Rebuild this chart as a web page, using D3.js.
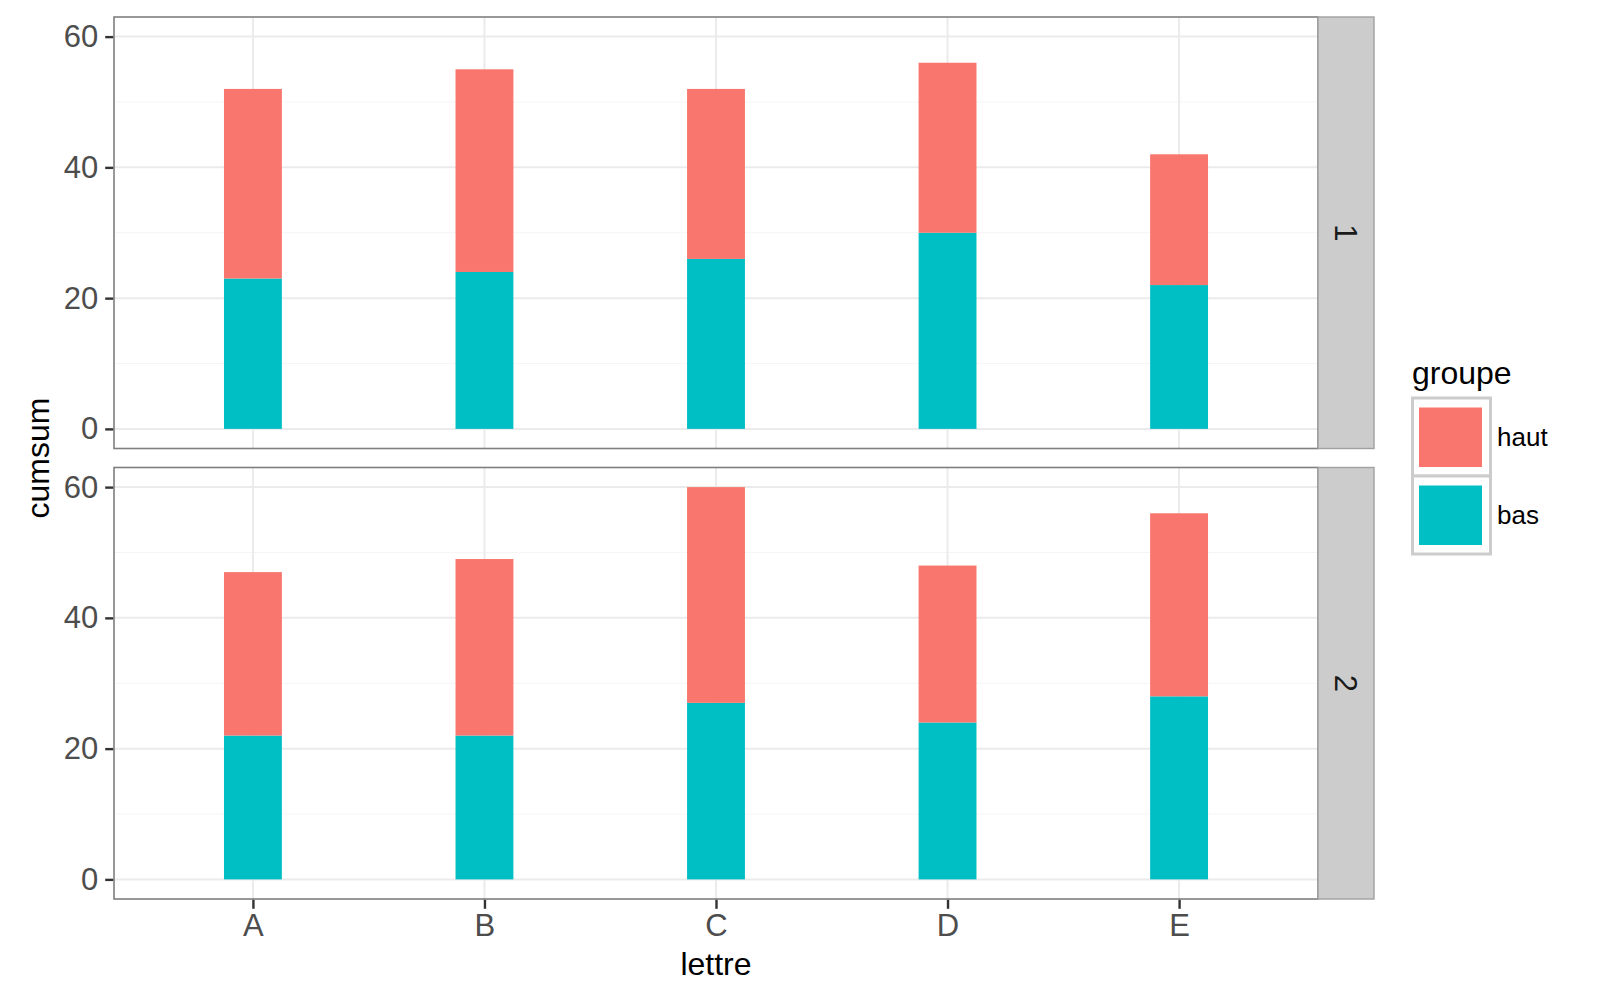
<!DOCTYPE html>
<html>
<head>
<meta charset="utf-8">
<script src="https://cdn.jsdelivr.net/npm/d3@7"></script>
<style>
  html, body { margin: 0; padding: 0; background: #fff; }
  svg { display: block; font-family: "Liberation Sans", Arial, Helvetica, sans-serif; }
</style>
</head>
<body>
<svg id="chart" width="1600" height="1000"></svg>
<script>
// ---- data ----
const lettres = ["A", "B", "C", "D", "E"];
const panels = ["1", "2"];
const groupes = ["haut", "bas"];
const bas1 = [23, 24, 26, 30, 22];
const haut1 = [29, 31, 26, 26, 20];
const bas2 = [22, 22, 27, 24, 28];
const haut2 = [25, 27, 33, 24, 28];
const yTicks = [0, 20, 40, 60];
const yMinor = [10, 30, 50];
const colors = { haut: "#F8766D", bas: "#00BFC4" };

const panelData = [
  lettres.map((l, i) => ({ lettre: l, bas: bas1[i], haut: haut1[i] })),
  lettres.map((l, i) => ({ lettre: l, bas: bas2[i], haut: haut2[i] }))
];

// ---- layout ----
const svg = d3.select("#chart");
const left = 114, right = 1318;
const panelTops = [17, 467.5];
const panelH = 431.5;
const stripW = 56;

const x = d3.scaleLinear().domain([0.4, 5.6]).range([left, right]);
const barW = x(1.25) - x(1);

const stack = d3.stack().keys(["bas", "haut"]);

panels.forEach((p, pi) => {
  const top = panelTops[pi], bottom = top + panelH;
  const y = d3.scaleLinear().domain([-3, 63]).range([bottom, top]);
  const g = svg.append("g");

  g.append("rect").attr("x", left).attr("y", top).attr("width", right - left).attr("height", panelH)
    .attr("fill", "#fff");

  g.selectAll(".minor").data(yMinor).enter().append("line")
    .attr("x1", left).attr("x2", right).attr("y1", d => y(d)).attr("y2", d => y(d))
    .attr("stroke", "#F5F5F5").attr("stroke-width", 1.2);
  g.selectAll(".major").data(yTicks).enter().append("line")
    .attr("x1", left).attr("x2", right).attr("y1", d => y(d)).attr("y2", d => y(d))
    .attr("stroke", "#EBEBEB").attr("stroke-width", 2);
  g.selectAll(".vmajor").data(lettres).enter().append("line")
    .attr("x1", (d, i) => x(i + 1)).attr("x2", (d, i) => x(i + 1)).attr("y1", top).attr("y2", bottom)
    .attr("stroke", "#EBEBEB").attr("stroke-width", 2);

  const series = stack(panelData[pi]);
  series.forEach(s => {
    g.selectAll(".bar-" + s.key).data(s).enter().append("rect")
      .attr("x", (d, i) => x(i + 1) - barW / 2)
      .attr("width", barW)
      .attr("y", d => y(d[1]))
      .attr("height", d => y(d[0]) - y(d[1]))
      .attr("fill", colors[s.key]);
  });

  g.append("rect").attr("x", left).attr("y", top).attr("width", right - left).attr("height", panelH)
    .attr("fill", "none").attr("stroke", "#7F7F7F").attr("stroke-width", 1.6);

  g.append("rect").attr("x", right).attr("y", top).attr("width", stripW).attr("height", panelH)
    .attr("fill", "#CCCCCC").attr("stroke", "#A0A0A0").attr("stroke-width", 1.4);
  g.append("text")
    .attr("transform", `translate(${right + stripW / 2},${top + panelH / 2}) rotate(90)`)
    .attr("text-anchor", "middle").attr("dy", "0.35em")
    .attr("font-size", 31).attr("fill", "#1A1A1A").text(p);

  const yAxis = d3.axisLeft(y).tickValues(yTicks).tickSize(8).tickPadding(7);
  const ya = g.append("g").attr("transform", `translate(${left - 0.8},0)`).call(yAxis);
  ya.select(".domain").remove();
  ya.selectAll(".tick line").attr("stroke", "#333333").attr("stroke-width", 2.4);
  ya.selectAll(".tick text").attr("font-size", 31).attr("fill", "#4D4D4D")
    .attr("font-family", '"Liberation Sans", Arial, sans-serif');

  if (pi === panels.length - 1) {
    const xAxis = d3.axisBottom(x).tickValues([1, 2, 3, 4, 5]).tickFormat(d => lettres[d - 1])
      .tickSize(9).tickPadding(5);
    const xa = g.append("g").attr("transform", `translate(0,${bottom + 0.8})`).call(xAxis);
    xa.select(".domain").remove();
    xa.selectAll(".tick line").attr("stroke", "#333333").attr("stroke-width", 2.4);
    xa.selectAll(".tick text").attr("font-size", 31).attr("fill", "#4D4D4D")
      .attr("font-family", '"Liberation Sans", Arial, sans-serif');
  }
});

svg.append("text").attr("x", (left + right) / 2).attr("y", 975)
  .attr("text-anchor", "middle").attr("font-size", 32).attr("fill", "#000").text("lettre");
svg.append("text")
  .attr("transform", `translate(49,${(panelTops[0] + panelTops[1] + panelH) / 2}) rotate(-90)`)
  .attr("text-anchor", "middle").attr("font-size", 32).attr("fill", "#000").text("cumsum");

const lg = svg.append("g");
lg.append("text").attr("x", 1412).attr("y", 384).attr("font-size", 32).attr("fill", "#000").text("groupe");
const keySize = 78;
groupes.forEach((k, i) => {
  const ky = 398 + i * keySize;
  lg.append("rect").attr("x", 1412.5).attr("y", ky).attr("width", keySize).attr("height", keySize)
    .attr("fill", "#fff").attr("stroke", "#CCCCCC").attr("stroke-width", 3);
  lg.append("rect").attr("x", 1419).attr("y", ky + 9.5).attr("width", 63).attr("height", 59.5)
    .attr("fill", colors[k]);
  lg.append("text").attr("x", 1497).attr("y", ky + keySize / 2).attr("dy", "0.35em")
    .attr("font-size", 26).attr("fill", "#000").text(k);
});
</script>
</body>
</html>
